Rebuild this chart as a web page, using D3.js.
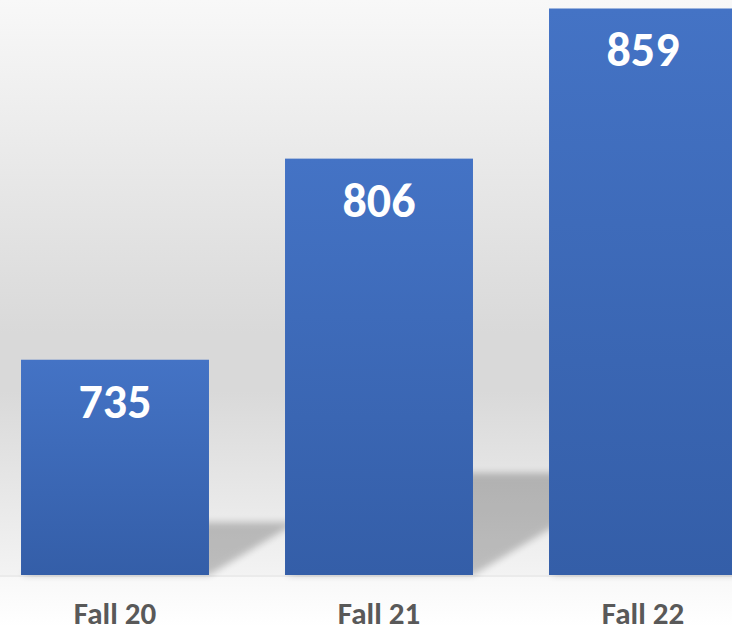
<!DOCTYPE html>
<html>
<head>
<meta charset="utf-8">
<script src="https://cdn.jsdelivr.net/npm/d3@7"></script>
<style>
  html, body { margin: 0; padding: 0; background: #ffffff; }
  #chart { width: 732px; height: 627px; overflow: hidden; }
  svg { display: block; }
</style>
</head>
<body>
<div id="chart"></div>
<script>
// data
var terms = ["Fall 20", "Fall 21", "Fall 22"];
var students = [735, 806, 859];

var width = 732, height = 627;
var baseY = 575; // baseline of the bars

var svg = d3.select("#chart").append("svg")
    .attr("width", width)
    .attr("height", height);

var defs = svg.append("defs");

// plot background: light at the top, darker grey in the middle, light again near the base
var bg = defs.append("linearGradient").attr("id", "bgGrad")
    .attr("x1", 0).attr("y1", 0).attr("x2", 0).attr("y2", 1);
bg.append("stop").attr("offset", "0%").attr("stop-color", "#f8f8f8");
bg.append("stop").attr("offset", "58%").attr("stop-color", "#d9d9d9");
bg.append("stop").attr("offset", "68%").attr("stop-color", "#d9d9d9");
bg.append("stop").attr("offset", "100%").attr("stop-color", "#f3f3f3");

var lower = defs.append("linearGradient").attr("id", "lowGrad")
    .attr("x1", 0).attr("y1", 0).attr("x2", 0).attr("y2", 1);
lower.append("stop").attr("offset", "0%").attr("stop-color", "#f8f8f8");
lower.append("stop").attr("offset", "100%").attr("stop-color", "#ffffff");

var barGrad = defs.append("linearGradient").attr("id", "barGrad")
    .attr("x1", 0).attr("y1", 0).attr("x2", 0).attr("y2", 1);
barGrad.append("stop").attr("offset", "0%").attr("stop-color", "#4473c5");
barGrad.append("stop").attr("offset", "100%").attr("stop-color", "#345ea8");

defs.append("filter").attr("id", "blur")
    .attr("x", "-20%").attr("y", "-20%").attr("width", "140%").attr("height", "140%")
  .append("feGaussianBlur").attr("stdDeviation", 3.5);

svg.append("rect")
    .attr("x", 0).attr("y", 0)
    .attr("width", width).attr("height", baseY)
    .style("fill", "url(#bgGrad)");
svg.append("rect")
    .attr("x", 0).attr("y", baseY)
    .attr("width", width).attr("height", height - baseY)
    .style("fill", "url(#lowGrad)");
svg.append("rect")
    .attr("x", 0).attr("y", baseY)
    .attr("width", width).attr("height", 2)
    .style("fill", "#ebebeb");

var x = d3.scaleBand()
    .domain(terms)
    .range([-17, 775])
    .paddingInner(0.288)
    .paddingOuter(0.144);

var y = d3.scaleLinear()
    .domain([659, 862])
    .range([baseY, 0]);

// perspective shadows cast to the back right of each bar
var shadow = svg.append("g").attr("class", "shadows");
shadow.selectAll("path")
    .data(students)
    .enter().append("path")
    .attr("d", function(d, i) {
        var x0 = x(terms[i]), x1 = x0 + x.bandwidth();
        var sh = (baseY - y(d)) * 0.245;
        var dx = sh / 0.6;
        return "M" + x0 + "," + baseY + "L" + x1 + "," + baseY +
               "L" + (x1 + dx) + "," + (baseY - sh) +
               "L" + (x0 + dx) + "," + (baseY - sh) + "Z";
    })
    .style("fill", "#000")
    .style("opacity", 0.22)
    .attr("filter", "url(#blur)");

var bars = svg.append("g").attr("class", "bars");
bars.selectAll("rect")
    .data(students)
    .enter().append("rect")
    .attr("x", function(d, i) { return x(terms[i]); })
    .attr("y", function(d) { return y(d); })
    .attr("width", x.bandwidth())
    .attr("height", function(d) { return baseY - y(d); })
    .style("fill", "url(#barGrad)");

bars.selectAll("text")
    .data(students)
    .enter().append("text")
    .attr("x", function(d, i) { return x(terms[i]) + x.bandwidth() / 2; })
    .attr("y", function(d) { return y(d) + 58; })
    .attr("text-anchor", "middle")
    .style("font-family", "Calibri, Carlito, 'Open Sans', sans-serif")
    .style("font-weight", "bold")
    .style("font-size", "48px")
    .style("fill", "#ffffff")
    .text(function(d) { return d; });

// category labels
svg.append("g").selectAll("text")
    .data(terms)
    .enter().append("text")
    .attr("x", function(d) { return x(d) + x.bandwidth() / 2; })
    .attr("y", 624)
    .attr("text-anchor", "middle")
    .style("font-family", "Calibri, Carlito, 'Open Sans', sans-serif")
    .style("font-weight", "bold")
    .style("font-size", "31px")
    .style("fill", "#595959")
    .text(function(d) { return d; });
</script>
</body>
</html>
